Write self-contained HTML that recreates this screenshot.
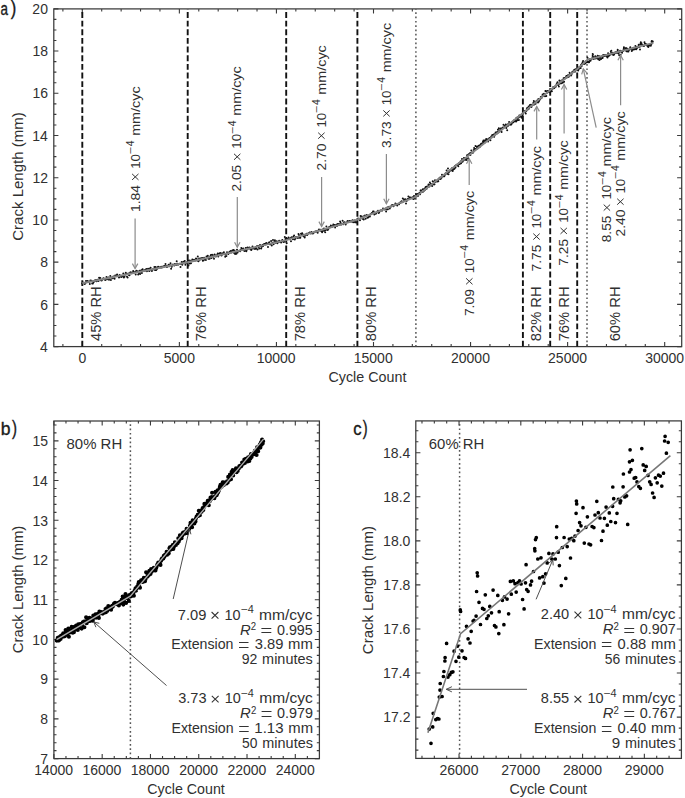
<!DOCTYPE html>
<html><head><meta charset="utf-8"><style>
html,body{margin:0;padding:0;background:#fff;}
svg{display:block;}
text{font-family:"Liberation Sans", sans-serif;font-size:14px;fill:#303030;}
</style></head><body>
<svg width="685" height="798" viewBox="0 0 685 798">
<rect width="685" height="798" fill="#fff"/>
<rect x="53.8" y="8.9" width="627.90" height="337.70" fill="none" stroke="#3a3a3a" stroke-width="1.25"/>
<path d="M82.30 346.6v-4.6M82.30 8.9v4.6M179.37 346.6v-4.6M179.37 8.9v4.6M276.43 346.6v-4.6M276.43 8.9v4.6M373.50 346.6v-4.6M373.50 8.9v4.6M470.56 346.6v-4.6M470.56 8.9v4.6M567.62 346.6v-4.6M567.62 8.9v4.6M664.69 346.6v-4.6M664.69 8.9v4.6M62.89 346.6v-2.6M62.89 8.9v2.6M101.71 346.6v-2.6M101.71 8.9v2.6M121.13 346.6v-2.6M121.13 8.9v2.6M140.54 346.6v-2.6M140.54 8.9v2.6M159.95 346.6v-2.6M159.95 8.9v2.6M198.78 346.6v-2.6M198.78 8.9v2.6M218.19 346.6v-2.6M218.19 8.9v2.6M237.60 346.6v-2.6M237.60 8.9v2.6M257.02 346.6v-2.6M257.02 8.9v2.6M295.84 346.6v-2.6M295.84 8.9v2.6M315.26 346.6v-2.6M315.26 8.9v2.6M334.67 346.6v-2.6M334.67 8.9v2.6M354.08 346.6v-2.6M354.08 8.9v2.6M392.91 346.6v-2.6M392.91 8.9v2.6M412.32 346.6v-2.6M412.32 8.9v2.6M431.73 346.6v-2.6M431.73 8.9v2.6M451.15 346.6v-2.6M451.15 8.9v2.6M489.97 346.6v-2.6M489.97 8.9v2.6M509.39 346.6v-2.6M509.39 8.9v2.6M528.80 346.6v-2.6M528.80 8.9v2.6M548.21 346.6v-2.6M548.21 8.9v2.6M587.04 346.6v-2.6M587.04 8.9v2.6M606.45 346.6v-2.6M606.45 8.9v2.6M625.86 346.6v-2.6M625.86 8.9v2.6M645.28 346.6v-2.6M645.28 8.9v2.6M53.8 346.60h4.6M681.7 346.60h-4.6M53.8 304.38h4.6M681.7 304.38h-4.6M53.8 262.16h4.6M681.7 262.16h-4.6M53.8 219.94h4.6M681.7 219.94h-4.6M53.8 177.72h4.6M681.7 177.72h-4.6M53.8 135.50h4.6M681.7 135.50h-4.6M53.8 93.28h4.6M681.7 93.28h-4.6M53.8 51.06h4.6M681.7 51.06h-4.6M53.8 8.84h4.6M681.7 8.84h-4.6M53.8 336.05h2.6M681.7 336.05h-2.6M53.8 325.49h2.6M681.7 325.49h-2.6M53.8 314.94h2.6M681.7 314.94h-2.6M53.8 293.83h2.6M681.7 293.83h-2.6M53.8 283.27h2.6M681.7 283.27h-2.6M53.8 272.72h2.6M681.7 272.72h-2.6M53.8 251.61h2.6M681.7 251.61h-2.6M53.8 241.05h2.6M681.7 241.05h-2.6M53.8 230.50h2.6M681.7 230.50h-2.6M53.8 209.39h2.6M681.7 209.39h-2.6M53.8 198.83h2.6M681.7 198.83h-2.6M53.8 188.28h2.6M681.7 188.28h-2.6M53.8 167.17h2.6M681.7 167.17h-2.6M53.8 156.61h2.6M681.7 156.61h-2.6M53.8 146.06h2.6M681.7 146.06h-2.6M53.8 124.95h2.6M681.7 124.95h-2.6M53.8 114.39h2.6M681.7 114.39h-2.6M53.8 103.84h2.6M681.7 103.84h-2.6M53.8 82.73h2.6M681.7 82.73h-2.6M53.8 72.17h2.6M681.7 72.17h-2.6M53.8 61.62h2.6M681.7 61.62h-2.6M53.8 40.51h2.6M681.7 40.51h-2.6M53.8 29.95h2.6M681.7 29.95h-2.6M53.8 19.40h2.6M681.7 19.40h-2.6" stroke="#3a3a3a" stroke-width="1.1" fill="none"/>
<text x="78.41" y="363.00" textLength="7.79" lengthAdjust="spacingAndGlyphs">0</text>
<text x="163.79" y="363.00" textLength="31.14" lengthAdjust="spacingAndGlyphs">5000</text>
<text x="256.70" y="363.00" textLength="38.93" lengthAdjust="spacingAndGlyphs">10000</text>
<text x="353.77" y="363.00" textLength="38.93" lengthAdjust="spacingAndGlyphs">15000</text>
<text x="451.02" y="363.00" textLength="38.93" lengthAdjust="spacingAndGlyphs">20000</text>
<text x="548.08" y="363.00" textLength="38.93" lengthAdjust="spacingAndGlyphs">25000</text>
<text x="645.23" y="363.00" textLength="38.93" lengthAdjust="spacingAndGlyphs">30000</text>
<text x="40.02" y="351.80" textLength="7.79" lengthAdjust="spacingAndGlyphs">4</text>
<text x="40.23" y="309.58" textLength="7.79" lengthAdjust="spacingAndGlyphs">6</text>
<text x="40.22" y="267.36" textLength="7.79" lengthAdjust="spacingAndGlyphs">8</text>
<text x="32.37" y="225.14" textLength="15.57" lengthAdjust="spacingAndGlyphs">10</text>
<text x="32.53" y="182.92" textLength="15.57" lengthAdjust="spacingAndGlyphs">12</text>
<text x="32.24" y="140.70" textLength="15.57" lengthAdjust="spacingAndGlyphs">14</text>
<text x="32.44" y="98.48" textLength="15.57" lengthAdjust="spacingAndGlyphs">16</text>
<text x="32.44" y="56.26" textLength="15.57" lengthAdjust="spacingAndGlyphs">18</text>
<text x="32.37" y="14.04" textLength="15.57" lengthAdjust="spacingAndGlyphs">20</text>
<text x="328.47" y="382.00" textLength="77.93" lengthAdjust="spacingAndGlyphs">Cycle Count</text>
<g transform="translate(22.90,240.00) rotate(-90)"><text x="-0.76" y="0.00" textLength="128.49" lengthAdjust="spacingAndGlyphs">Crack Length (mm)</text></g>
<text x="0.53" y="15.20" textLength="7.47" lengthAdjust="spacingAndGlyphs" style="font-size:17.5px;stroke:#1a1a1a;stroke-width:0.35px;fill:#1a1a1a;">a</text><text x="10.80" y="15.10" textLength="5.53" lengthAdjust="spacingAndGlyphs" style="font-size:19.3px;stroke:#1a1a1a;stroke-width:0.35px;fill:#1a1a1a;">)</text>
<line x1="82.30" y1="346.6" x2="82.30" y2="8.9" stroke="#111" stroke-width="1.9" stroke-dasharray="5.9 2.75"/>
<line x1="187.70" y1="346.6" x2="187.70" y2="8.9" stroke="#111" stroke-width="1.9" stroke-dasharray="5.9 2.75"/>
<line x1="286.20" y1="346.6" x2="286.20" y2="8.9" stroke="#111" stroke-width="1.9" stroke-dasharray="5.9 2.75"/>
<line x1="357.40" y1="346.6" x2="357.40" y2="8.9" stroke="#111" stroke-width="1.9" stroke-dasharray="5.9 2.75"/>
<line x1="522.90" y1="346.6" x2="522.90" y2="8.9" stroke="#111" stroke-width="1.9" stroke-dasharray="5.9 2.75"/>
<line x1="550.20" y1="346.6" x2="550.20" y2="8.9" stroke="#111" stroke-width="1.9" stroke-dasharray="5.9 2.75"/>
<line x1="577.20" y1="346.6" x2="577.20" y2="8.9" stroke="#111" stroke-width="1.9" stroke-dasharray="5.9 2.75"/>
<line x1="415.90" y1="346.6" x2="415.90" y2="8.9" stroke="#555" stroke-width="1.5" stroke-dasharray="1.7 2.62"/>
<line x1="587.00" y1="346.6" x2="587.00" y2="8.9" stroke="#555" stroke-width="1.5" stroke-dasharray="1.7 2.62"/>
<g transform="translate(101.00,340.60) rotate(-90)"><text x="-0.34" y="0.00" textLength="54.53" lengthAdjust="spacingAndGlyphs">45% RH</text></g>
<g transform="translate(206.20,340.60) rotate(-90)"><text x="-0.76" y="0.00" textLength="54.96" lengthAdjust="spacingAndGlyphs">76% RH</text></g>
<g transform="translate(305.00,340.60) rotate(-90)"><text x="-0.76" y="0.00" textLength="54.96" lengthAdjust="spacingAndGlyphs">78% RH</text></g>
<g transform="translate(375.80,340.60) rotate(-90)"><text x="-0.64" y="0.00" textLength="54.84" lengthAdjust="spacingAndGlyphs">80% RH</text></g>
<g transform="translate(541.40,340.60) rotate(-90)"><text x="-0.64" y="0.00" textLength="54.84" lengthAdjust="spacingAndGlyphs">82% RH</text></g>
<g transform="translate(569.00,340.60) rotate(-90)"><text x="-0.76" y="0.00" textLength="54.96" lengthAdjust="spacingAndGlyphs">76% RH</text></g>
<g transform="translate(620.40,340.60) rotate(-90)"><text x="-0.75" y="0.00" textLength="54.95" lengthAdjust="spacingAndGlyphs">60% RH</text></g>
<path d="M82.3 283.6h0M82.9 282.5h0M83.5 283.3h0M84.2 283.3h0M84.8 284.0h0M85.4 282.9h0M86.0 281.1h0M86.6 281.9h0M87.3 281.0h0M87.9 281.8h0M88.5 281.5h0M89.1 281.7h0M89.8 283.9h0M90.4 280.6h0M91.0 280.9h0M91.6 280.8h0M92.2 283.4h0M92.9 283.4h0M93.5 282.2h0M94.1 281.5h0M94.7 280.4h0M95.3 280.7h0M96.0 279.9h0M96.6 281.2h0M97.2 279.9h0M97.8 279.7h0M98.5 280.9h0M99.1 277.7h0M99.7 279.1h0M100.3 278.1h0M100.9 280.3h0M101.6 280.4h0M102.2 279.7h0M102.8 279.3h0M103.4 278.2h0M104.0 278.6h0M104.7 279.4h0M105.3 279.9h0M105.9 279.2h0M106.5 276.9h0M107.1 279.3h0M107.8 277.9h0M108.4 277.5h0M109.0 279.8h0M109.6 277.7h0M110.3 276.0h0M110.9 280.1h0M111.5 277.8h0M112.1 277.4h0M112.7 278.2h0M113.4 276.4h0M114.0 277.0h0M114.6 278.7h0M115.2 275.6h0M115.8 275.7h0M116.5 275.2h0M117.1 274.5h0M117.7 275.7h0M118.3 275.9h0M119.0 277.6h0M119.6 275.0h0M120.2 276.5h0M120.8 276.1h0M121.4 277.0h0M122.1 276.5h0M122.7 275.9h0M123.3 273.4h0M123.9 277.5h0M124.5 276.7h0M125.2 274.4h0M125.8 272.7h0M126.4 273.7h0M127.0 276.7h0M127.6 277.4h0M128.3 273.6h0M128.9 274.9h0M129.5 275.2h0M130.1 272.5h0M130.8 272.2h0M131.4 273.2h0M132.0 273.0h0M132.6 272.6h0M133.2 271.0h0M133.9 272.2h0M134.5 272.2h0M135.1 272.0h0M135.7 274.6h0M136.3 270.8h0M137.0 271.1h0M137.6 271.5h0M138.2 274.6h0M138.8 272.8h0M139.5 270.8h0M140.1 274.0h0M140.7 271.8h0M141.3 270.2h0M141.9 273.0h0M142.6 269.2h0M143.2 270.4h0M143.8 271.1h0M144.4 270.4h0M145.0 269.9h0M145.7 270.4h0M146.3 269.0h0M146.9 271.2h0M147.5 270.7h0M148.1 268.8h0M148.8 269.9h0M149.4 270.9h0M150.0 268.5h0M150.6 267.7h0M151.3 270.0h0M151.9 271.1h0M152.5 269.4h0M153.1 269.3h0M153.7 269.3h0M154.4 267.1h0M155.0 270.0h0M155.6 267.0h0M156.2 270.1h0M156.8 269.3h0M157.5 267.4h0M158.1 266.7h0M158.7 266.9h0M159.3 267.4h0M160.0 267.5h0M160.6 267.4h0M161.2 266.7h0M161.8 267.6h0M162.4 266.9h0M163.1 266.4h0M163.7 267.0h0M164.3 265.9h0M164.9 266.0h0M165.5 264.1h0M166.2 266.1h0M166.8 266.9h0M167.4 266.7h0M168.0 266.1h0M168.6 264.8h0M169.3 266.3h0M169.9 265.2h0M170.5 263.3h0M171.1 268.7h0M171.8 266.8h0M172.4 264.9h0M173.0 264.6h0M173.6 264.7h0M174.2 265.4h0M174.9 263.9h0M175.5 264.3h0M176.1 265.1h0M176.7 261.3h0M177.3 263.8h0M178.0 264.8h0M178.6 264.1h0M179.2 264.1h0M179.8 263.8h0M180.5 267.1h0M181.1 264.1h0M181.7 262.1h0M182.3 264.7h0M182.9 263.2h0M183.6 261.8h0M184.2 261.8h0M184.8 260.9h0M185.4 264.8h0M186.0 262.9h0M186.7 262.8h0M187.3 261.5h0M187.9 260.7h0M188.5 265.4h0M189.1 260.5h0M189.8 263.5h0M190.4 260.7h0M191.0 263.3h0M191.6 261.1h0M192.3 259.6h0M192.9 261.2h0M193.5 260.6h0M194.1 259.7h0M194.7 260.4h0M195.4 260.6h0M196.0 258.4h0M196.6 258.8h0M197.2 260.4h0M197.8 256.4h0M198.5 261.2h0M199.1 258.5h0M199.7 259.8h0M200.3 259.2h0M201.0 258.3h0M201.6 258.8h0M202.2 258.1h0M202.8 260.7h0M203.4 260.6h0M204.1 257.7h0M204.7 259.6h0M205.3 259.5h0M205.9 260.0h0M206.5 256.4h0M207.2 256.9h0M207.8 255.8h0M208.4 258.7h0M209.0 257.4h0M209.6 258.7h0M210.3 256.2h0M210.9 255.0h0M211.5 258.0h0M212.1 254.7h0M212.8 255.3h0M213.4 256.7h0M214.0 258.8h0M214.6 254.4h0M215.2 256.1h0M215.9 256.6h0M216.5 255.2h0M217.1 255.1h0M217.7 253.6h0M218.3 256.6h0M219.0 253.7h0M219.6 253.2h0M220.2 253.1h0M220.8 255.0h0M221.5 255.6h0M222.1 253.2h0M222.7 254.2h0M223.3 254.1h0M223.9 252.3h0M224.6 254.3h0M225.2 256.7h0M225.8 254.2h0M226.4 255.9h0M227.0 252.3h0M227.7 252.8h0M228.3 253.9h0M228.9 253.0h0M229.5 251.8h0M230.1 252.6h0M230.8 250.9h0M231.4 252.5h0M232.0 251.0h0M232.6 250.3h0M233.3 250.0h0M233.9 252.7h0M234.5 250.6h0M235.1 254.0h0M235.7 252.8h0M236.4 253.8h0M237.0 249.8h0M237.6 252.6h0M238.2 250.9h0M238.8 251.0h0M239.5 250.7h0M240.1 251.2h0M240.7 250.0h0M241.3 247.9h0M242.0 250.0h0M242.6 249.3h0M243.2 248.5h0M243.8 249.9h0M244.4 251.1h0M245.1 250.1h0M245.7 247.9h0M246.3 251.2h0M246.9 249.7h0M247.5 247.5h0M248.2 247.7h0M248.8 248.5h0M249.4 247.4h0M250.0 248.0h0M250.6 249.6h0M251.3 250.0h0M251.9 248.7h0M252.5 246.5h0M253.1 248.3h0M253.8 248.6h0M254.4 248.3h0M255.0 249.1h0M255.6 247.2h0M256.2 248.4h0M256.9 246.3h0M257.5 249.6h0M258.1 246.0h0M258.7 247.1h0M259.3 248.6h0M260.0 245.1h0M260.6 246.3h0M261.2 248.6h0M261.8 246.7h0M262.5 245.1h0M263.1 245.9h0M263.7 244.2h0M264.3 244.1h0M264.9 244.1h0M265.6 244.4h0M266.2 243.0h0M266.8 243.7h0M267.4 243.8h0M268.0 246.9h0M268.7 243.0h0M269.3 242.3h0M269.9 244.2h0M270.5 244.3h0M271.1 241.1h0M271.8 245.6h0M272.4 242.7h0M273.0 240.1h0M273.6 244.2h0M274.3 242.0h0M274.9 240.3h0M275.5 242.7h0M276.1 241.7h0M276.7 241.2h0M277.4 243.3h0M278.0 242.1h0M278.6 241.5h0M279.2 240.7h0M279.8 241.7h0M280.5 241.7h0M281.1 242.6h0M281.7 241.6h0M282.3 239.9h0M283.0 240.8h0M283.6 241.9h0M284.2 241.7h0M284.8 237.1h0M285.4 238.9h0M286.1 239.4h0M286.7 243.3h0M287.3 239.1h0M287.9 239.1h0M288.5 237.4h0M289.2 238.8h0M289.8 239.2h0M290.4 238.3h0M291.0 241.3h0M291.6 237.3h0M292.3 238.0h0M292.9 239.2h0M293.5 236.4h0M294.1 235.6h0M294.8 239.5h0M295.4 238.4h0M296.0 237.0h0M296.6 237.0h0M297.2 237.5h0M297.9 238.1h0M298.5 234.0h0M299.1 235.2h0M299.7 237.8h0M300.3 237.8h0M301.0 233.8h0M301.6 234.5h0M302.2 233.3h0M302.8 234.4h0M303.5 236.3h0M304.1 234.7h0M304.7 237.6h0M305.3 235.6h0M305.9 234.6h0M306.6 233.7h0M307.2 235.1h0M307.8 234.1h0M308.4 233.2h0M309.0 233.1h0M309.7 232.6h0M310.3 233.0h0M310.9 233.5h0M311.5 231.9h0M312.1 232.7h0M312.8 233.6h0M313.4 233.2h0M314.0 232.2h0M314.6 232.1h0M315.3 231.6h0M315.9 231.6h0M316.5 231.2h0M317.1 231.5h0M317.7 232.7h0M318.4 230.4h0M319.0 229.4h0M319.6 230.0h0M320.2 230.6h0M320.8 229.7h0M321.5 231.3h0M322.1 232.3h0M322.7 229.6h0M323.3 230.7h0M324.0 228.4h0M324.6 230.5h0M325.2 232.3h0M325.8 230.1h0M326.4 226.6h0M327.1 228.9h0M327.7 230.0h0M328.3 229.0h0M328.9 227.2h0M329.5 227.1h0M330.2 227.3h0M330.8 225.5h0M331.4 226.3h0M332.0 227.0h0M332.7 226.1h0M333.3 224.5h0M333.9 225.2h0M334.5 225.0h0M335.1 227.5h0M335.8 226.1h0M336.4 224.8h0M337.0 225.9h0M337.6 224.0h0M338.2 224.5h0M338.9 223.9h0M339.5 225.1h0M340.1 221.4h0M340.7 222.9h0M341.3 224.6h0M342.0 224.0h0M342.6 220.7h0M343.2 224.2h0M343.8 222.5h0M344.5 222.2h0M345.1 223.2h0M345.7 224.5h0M346.3 222.6h0M346.9 222.3h0M347.6 221.1h0M348.2 221.4h0M348.8 222.1h0M349.4 220.9h0M350.0 221.1h0M350.7 221.4h0M351.3 221.4h0M351.9 221.6h0M352.5 220.2h0M353.2 222.3h0M353.8 221.5h0M354.4 220.6h0M355.0 222.2h0M355.6 220.7h0M356.3 222.6h0M356.9 220.6h0M357.5 218.8h0M358.1 218.6h0M358.7 219.1h0M359.4 219.1h0M360.0 220.3h0M360.6 216.0h0M361.2 217.4h0M361.8 216.4h0M362.5 218.7h0M363.1 217.5h0M363.7 219.4h0M364.3 215.8h0M365.0 215.4h0M365.6 218.7h0M366.2 216.1h0M366.8 215.0h0M367.4 217.8h0M368.1 217.6h0M368.7 216.4h0M369.3 215.6h0M369.9 216.4h0M370.5 214.3h0M371.2 213.8h0M371.8 213.0h0M372.4 212.7h0M373.0 211.4h0M373.7 211.6h0M374.3 214.5h0M374.9 213.3h0M375.5 213.7h0M376.1 213.5h0M376.8 212.0h0M377.4 211.6h0M378.0 210.8h0M378.6 213.1h0M379.2 212.5h0M379.9 210.7h0M380.5 210.6h0M381.1 210.5h0M381.7 210.0h0M382.3 210.6h0M383.0 208.5h0M383.6 208.7h0M384.2 209.0h0M384.8 209.5h0M385.5 208.6h0M386.1 211.6h0M386.7 209.2h0M387.3 207.6h0M387.9 209.3h0M388.6 206.9h0M389.2 206.7h0M389.8 208.4h0M390.4 206.7h0M391.0 206.6h0M391.7 205.3h0M392.3 204.9h0M392.9 205.5h0M393.5 206.3h0M394.2 205.1h0M394.8 204.8h0M395.4 203.5h0M396.0 203.8h0M396.6 204.8h0M397.3 205.4h0M397.9 203.9h0M398.5 204.1h0M399.1 204.3h0M399.7 202.8h0M400.4 203.1h0M401.0 202.1h0M401.6 201.3h0M402.2 202.2h0M402.8 198.5h0M403.5 201.6h0M404.1 199.6h0M404.7 200.6h0M405.3 199.2h0M406.0 203.4h0M406.6 201.1h0M407.2 199.6h0M407.8 198.9h0M408.4 196.5h0M409.1 198.8h0M409.7 197.4h0M410.3 197.8h0M410.9 197.4h0M411.5 197.7h0M412.2 198.3h0M412.8 197.3h0M413.4 199.1h0M414.0 196.0h0M414.7 198.5h0M415.3 196.7h0M415.9 193.9h0M416.4 196.5h0M416.8 195.8h0M417.3 194.0h0M417.8 195.1h0M418.2 195.8h0M418.7 194.0h0M419.2 193.2h0M419.6 192.7h0M420.1 194.2h0M420.6 190.6h0M421.0 190.3h0M421.5 192.1h0M421.9 191.4h0M422.4 191.9h0M422.9 189.2h0M423.3 191.5h0M423.8 189.3h0M424.3 190.4h0M424.7 190.3h0M425.2 188.1h0M425.7 187.0h0M426.1 188.3h0M426.6 188.8h0M427.1 186.5h0M427.5 187.2h0M428.0 186.4h0M428.5 184.5h0M428.9 184.7h0M429.4 186.4h0M429.9 182.6h0M430.3 185.1h0M430.8 183.8h0M431.3 185.3h0M431.7 184.2h0M432.2 186.0h0M432.7 181.2h0M433.1 181.4h0M433.6 184.3h0M434.1 184.4h0M434.5 184.2h0M435.0 180.3h0M435.5 182.0h0M435.9 181.2h0M436.4 181.2h0M436.9 180.6h0M437.3 181.5h0M437.8 179.7h0M438.3 181.3h0M438.7 179.2h0M439.2 178.4h0M439.7 177.8h0M440.1 178.4h0M440.6 178.9h0M441.1 177.2h0M441.5 177.7h0M442.0 174.8h0M442.4 175.4h0M442.9 176.2h0M443.4 176.3h0M443.8 176.2h0M444.3 176.2h0M444.8 175.1h0M445.2 173.9h0M445.7 173.3h0M446.2 172.9h0M446.6 170.6h0M447.1 173.8h0M447.6 172.5h0M448.0 168.6h0M448.5 174.2h0M449.0 172.1h0M449.4 170.9h0M449.9 170.6h0M450.4 169.9h0M450.8 170.4h0M451.3 169.2h0M451.8 169.3h0M452.2 168.0h0M452.7 171.0h0M453.2 169.4h0M453.6 167.9h0M454.1 168.9h0M454.6 168.6h0M455.0 166.1h0M455.5 167.4h0M456.0 165.4h0M456.4 164.9h0M456.9 165.1h0M457.4 164.5h0M457.8 164.9h0M458.3 166.2h0M458.8 164.1h0M459.2 163.1h0M459.7 164.0h0M460.2 163.1h0M460.6 161.6h0M461.1 163.3h0M461.6 161.0h0M462.0 159.1h0M462.5 161.8h0M463.0 160.5h0M463.4 160.5h0M463.9 158.0h0M464.3 159.2h0M464.8 158.1h0M465.3 159.7h0M465.7 158.5h0M466.2 158.1h0M466.7 159.9h0M467.1 155.3h0M467.6 155.4h0M468.1 158.2h0M468.5 154.5h0M469.0 155.0h0M469.5 153.7h0M469.9 153.3h0M470.4 155.1h0M470.9 153.0h0M471.3 150.4h0M471.8 152.7h0M472.3 152.9h0M472.7 152.9h0M473.2 152.3h0M473.7 150.0h0M474.1 147.9h0M474.6 149.1h0M475.1 148.9h0M475.5 146.0h0M476.0 149.1h0M476.5 149.0h0M476.9 147.1h0M477.4 146.6h0M477.9 148.2h0M478.3 148.0h0M478.8 145.8h0M479.3 145.5h0M479.7 147.1h0M480.2 145.3h0M480.7 145.3h0M481.1 143.7h0M481.6 144.0h0M482.1 143.6h0M482.5 143.5h0M483.0 141.4h0M483.5 140.6h0M483.9 142.4h0M484.4 140.6h0M484.8 142.5h0M485.3 141.3h0M485.8 140.2h0M486.2 139.0h0M486.7 141.1h0M487.2 140.3h0M487.6 139.6h0M488.1 141.4h0M488.6 139.1h0M489.0 139.6h0M489.5 138.0h0M490.0 139.5h0M490.4 140.2h0M490.9 137.3h0M491.4 136.6h0M491.8 137.3h0M492.3 135.1h0M492.8 136.2h0M493.2 136.3h0M493.7 134.6h0M494.2 136.8h0M494.6 135.3h0M495.1 134.1h0M495.6 132.6h0M496.0 133.5h0M496.5 132.6h0M497.0 133.4h0M497.4 131.9h0M497.9 129.8h0M498.4 132.4h0M498.8 128.2h0M499.3 131.6h0M499.8 130.4h0M500.2 129.9h0M500.7 128.6h0M501.2 131.1h0M501.6 131.9h0M502.1 128.2h0M502.6 127.7h0M503.0 127.6h0M503.5 124.7h0M504.0 127.5h0M504.4 127.2h0M504.9 126.0h0M505.3 126.4h0M505.8 124.5h0M506.3 127.9h0M506.7 126.6h0M507.2 130.2h0M507.7 124.5h0M508.1 125.8h0M508.6 123.9h0M509.1 122.1h0M509.5 124.5h0M510.0 124.6h0M510.5 124.6h0M510.9 124.8h0M511.4 124.3h0M511.9 122.3h0M512.3 122.7h0M512.8 122.3h0M513.3 122.3h0M513.7 120.6h0M514.2 120.8h0M514.7 121.2h0M515.1 119.9h0M515.6 120.5h0M516.1 121.5h0M516.5 117.8h0M517.0 118.7h0M517.5 120.2h0M517.9 117.3h0M518.4 117.8h0M518.9 119.9h0M519.3 115.5h0M519.8 116.8h0M520.3 115.8h0M520.7 116.3h0M521.2 116.4h0M521.7 117.8h0M522.1 114.3h0M522.6 115.1h0M523.1 113.5h0M523.5 112.3h0M524.0 112.2h0M524.5 111.1h0M524.9 112.0h0M525.4 111.2h0M525.8 113.4h0M526.3 110.9h0M526.8 109.1h0M527.2 107.9h0M527.7 109.6h0M528.2 108.9h0M528.6 106.4h0M529.1 108.4h0M529.6 106.6h0M530.0 105.0h0M530.5 106.7h0M531.0 104.8h0M531.4 106.9h0M531.9 105.3h0M532.4 105.3h0M532.8 104.7h0M533.3 103.0h0M533.8 101.0h0M534.2 104.5h0M534.7 104.0h0M535.2 102.2h0M535.6 103.8h0M536.1 101.4h0M536.6 100.9h0M537.0 101.6h0M537.5 100.2h0M538.0 102.4h0M538.4 99.1h0M538.9 101.6h0M539.4 100.2h0M539.8 99.6h0M540.3 99.0h0M540.8 97.0h0M541.2 97.6h0M541.7 97.8h0M542.2 96.2h0M542.6 94.5h0M543.1 96.1h0M543.6 95.2h0M544.0 93.7h0M544.5 94.6h0M545.0 96.2h0M545.4 91.0h0M545.9 90.9h0M546.3 95.9h0M546.8 93.0h0M547.3 92.0h0M547.7 90.9h0M548.2 90.9h0M548.7 91.7h0M549.1 92.3h0M549.6 90.4h0M550.1 88.9h0M550.5 91.2h0M551.0 90.8h0M551.5 89.1h0M551.9 91.2h0M552.4 88.7h0M552.9 88.6h0M553.3 87.1h0M553.8 88.2h0M554.3 88.0h0M554.7 87.1h0M555.2 86.3h0M555.7 86.7h0M556.1 85.5h0M556.6 84.2h0M557.1 83.3h0M557.5 82.2h0M558.0 85.0h0M558.5 84.2h0M558.9 86.5h0M559.4 80.6h0M559.9 83.5h0M560.3 82.3h0M560.8 81.2h0M561.3 83.2h0M561.7 80.6h0M562.2 80.8h0M562.7 82.7h0M563.1 79.7h0M563.6 78.2h0M564.1 81.7h0M564.5 78.0h0M565.0 78.4h0M565.5 77.7h0M565.9 77.3h0M566.4 75.9h0M566.8 77.5h0M567.3 75.7h0M567.8 77.0h0M568.2 75.2h0M568.7 76.8h0M569.2 75.5h0M569.6 72.8h0M570.1 74.1h0M570.6 74.5h0M571.0 75.4h0M571.5 74.6h0M572.0 73.0h0M572.4 71.7h0M572.9 72.0h0M573.4 71.5h0M573.8 71.8h0M574.3 69.7h0M574.8 71.5h0M575.2 71.4h0M575.7 69.2h0M576.2 69.9h0M576.6 70.0h0M577.7 69.1h0M578.2 70.5h0M578.8 68.9h0M578.9 67.6h0M579.7 68.2h0M580.3 68.1h0M580.7 68.1h0M580.8 66.0h0M581.1 65.4h0M581.1 64.7h0M581.7 66.0h0M582.1 64.1h0M582.3 63.6h0M582.6 62.6h0M582.7 62.2h0M583.1 60.9h0M583.6 64.1h0M584.1 63.9h0M584.6 63.7h0M585.1 63.6h0M585.5 61.6h0M586.1 62.6h0M586.6 61.1h0M587.0 62.2h0M587.4 57.7h0M587.5 57.8h0M588.0 61.6h0M588.6 62.2h0M589.1 62.3h0M589.4 59.2h0M589.9 60.4h0M590.5 60.8h0M590.9 59.7h0M591.5 58.7h0M591.7 58.7h0M592.4 58.3h0M592.6 55.9h0M592.7 54.1h0M592.9 54.4h0M593.3 56.9h0M593.8 59.1h0M594.4 57.5h0M594.9 57.6h0M595.3 56.2h0M595.8 58.5h0M596.2 58.2h0M596.7 57.3h0M597.2 58.0h0M597.7 55.8h0M598.2 59.2h0M598.6 59.3h0M599.2 56.3h0M599.5 59.9h0M599.7 57.8h0M600.7 56.8h0M601.1 59.1h0M601.3 56.4h0M602.1 56.6h0M602.6 58.0h0M603.2 54.9h0M603.5 56.2h0M604.1 54.9h0M604.6 55.2h0M605.0 56.0h0M605.6 55.1h0M606.0 54.9h0M606.5 55.2h0M607.0 56.7h0M607.5 57.6h0M607.9 55.1h0M608.1 53.3h0M608.3 55.7h0M608.7 55.9h0M609.5 55.3h0M609.8 54.9h0M610.4 54.0h0M610.8 51.8h0M610.9 52.0h0M611.1 50.9h0M611.3 50.7h0M611.8 52.8h0M612.4 54.6h0M612.8 52.7h0M613.4 54.5h0M613.7 55.1h0M614.2 54.2h0M614.7 53.2h0M615.3 52.3h0M616.2 52.8h0M616.6 52.3h0M617.3 52.8h0M617.7 50.7h0M617.7 49.7h0M618.2 52.1h0M618.6 53.4h0M619.2 55.3h0M619.5 51.7h0M620.1 50.7h0M620.6 54.7h0M621.0 51.6h0M621.7 50.9h0M622.1 52.7h0M622.4 50.8h0M623.1 51.0h0M623.5 50.6h0M623.8 48.4h0M623.9 47.2h0M624.0 47.5h0M624.5 50.1h0M624.9 49.3h0M625.4 49.6h0M626.0 47.9h0M626.4 51.3h0M626.9 49.8h0M627.4 48.8h0M627.9 51.4h0M628.4 51.4h0M628.9 49.7h0M629.4 49.8h0M629.8 48.6h0M630.3 47.3h0M630.8 48.4h0M631.3 48.9h0M631.8 51.0h0M632.3 50.1h0M632.7 48.9h0M633.3 47.8h0M633.6 49.6h0M634.3 48.4h0M634.7 49.2h0M635.3 47.7h0M635.4 45.9h0M635.6 47.0h0M636.2 49.3h0M636.7 48.4h0M637.1 47.1h0M637.7 47.4h0M637.8 47.2h0M638.6 45.9h0M638.7 44.7h0M639.1 46.8h0M639.7 46.7h0M640.0 49.5h0M640.6 44.5h0M640.6 43.5h0M640.8 42.3h0M641.1 44.2h0M641.5 43.3h0M642.1 45.1h0M642.6 45.0h0M643.0 45.4h0M643.5 45.9h0M644.0 46.0h0M644.5 42.2h0M644.9 43.8h0M645.4 44.3h0M645.9 43.9h0M646.4 44.8h0M647.0 45.4h0M647.4 45.6h0M647.9 46.5h0M648.3 46.9h0M648.8 45.0h0M649.3 45.5h0M649.7 44.8h0M650.3 44.9h0M650.8 45.8h0M651.3 44.6h0M651.6 41.5h0M651.8 41.0h0M652.2 42.7h0M652.8 41.6h0" stroke="#111" stroke-width="2.0" stroke-linecap="round" fill="none"/>
<polyline points="82.3,283.3 187.7,262.2 286.1,240.2 356.3,220.0 415.5,196.9 522.8,113.3 550.2,90.1 577.1,69.2 587.4,59.9 653.4,42.8" fill="none" stroke="#858585" stroke-width="1.9"/>
<path d="" stroke="#111" stroke-width="2.0" stroke-linecap="round" fill="none"/>
<g transform="translate(139.50,211.00) rotate(-90)"><text x="-1.06" y="0.00" textLength="27.07" lengthAdjust="spacingAndGlyphs" style="font-size:12.9px;">1.84</text><path d="M31.1 -7.4L37.1 -1.0M31.1 -1.0L37.1 -7.4" stroke="#333" stroke-width="1.0" fill="none"/><text x="42.19" y="0.00" textLength="14.73" lengthAdjust="spacingAndGlyphs" style="font-size:12.9px;">10</text><text x="57.07" y="-5.30" textLength="7.45" lengthAdjust="spacingAndGlyphs" style="font-size:10.2px;">−</text><text x="64.76" y="-5.30" textLength="5.74" lengthAdjust="spacingAndGlyphs" style="font-size:10.2px;">4</text><text x="75.15" y="0.00" textLength="49.43" lengthAdjust="spacingAndGlyphs" style="font-size:12.9px;">mm/cyc</text></g>
<line x1="135.1" y1="218.5" x2="135.1" y2="268.6" stroke="#8c8c8c" stroke-width="1.2"/>
<path d="M132.4 263.6L135.1 268.6L137.8 263.6" stroke="#8c8c8c" stroke-width="1.2" fill="none"/>
<g transform="translate(241.40,190.90) rotate(-90)"><text x="-0.69" y="0.00" textLength="26.87" lengthAdjust="spacingAndGlyphs" style="font-size:12.9px;">2.05</text><path d="M31.1 -7.4L37.1 -1.0M31.1 -1.0L37.1 -7.4" stroke="#333" stroke-width="1.0" fill="none"/><text x="42.19" y="0.00" textLength="14.73" lengthAdjust="spacingAndGlyphs" style="font-size:12.9px;">10</text><text x="57.07" y="-5.30" textLength="7.45" lengthAdjust="spacingAndGlyphs" style="font-size:10.2px;">−</text><text x="64.76" y="-5.30" textLength="5.74" lengthAdjust="spacingAndGlyphs" style="font-size:10.2px;">4</text><text x="75.15" y="0.00" textLength="49.43" lengthAdjust="spacingAndGlyphs" style="font-size:12.9px;">mm/cyc</text></g>
<line x1="237.3" y1="197.1" x2="237.3" y2="247.3" stroke="#8c8c8c" stroke-width="1.2"/>
<path d="M234.6 242.3L237.3 247.3L240.0 242.3" stroke="#8c8c8c" stroke-width="1.2" fill="none"/>
<g transform="translate(325.60,169.80) rotate(-90)"><text x="-0.69" y="0.00" textLength="26.83" lengthAdjust="spacingAndGlyphs" style="font-size:12.9px;">2.70</text><path d="M31.1 -7.4L37.1 -1.0M31.1 -1.0L37.1 -7.4" stroke="#333" stroke-width="1.0" fill="none"/><text x="42.19" y="0.00" textLength="14.73" lengthAdjust="spacingAndGlyphs" style="font-size:12.9px;">10</text><text x="57.07" y="-5.30" textLength="7.45" lengthAdjust="spacingAndGlyphs" style="font-size:10.2px;">−</text><text x="64.76" y="-5.30" textLength="5.74" lengthAdjust="spacingAndGlyphs" style="font-size:10.2px;">4</text><text x="75.15" y="0.00" textLength="49.43" lengthAdjust="spacingAndGlyphs" style="font-size:12.9px;">mm/cyc</text></g>
<line x1="321.6" y1="177.0" x2="321.6" y2="226.6" stroke="#8c8c8c" stroke-width="1.2"/>
<path d="M318.9 221.6L321.6 226.6L324.3 221.6" stroke="#8c8c8c" stroke-width="1.2" fill="none"/>
<g transform="translate(390.70,147.50) rotate(-90)"><text x="-0.52" y="0.00" textLength="26.73" lengthAdjust="spacingAndGlyphs" style="font-size:12.9px;">3.73</text><path d="M31.1 -7.4L37.1 -1.0M31.1 -1.0L37.1 -7.4" stroke="#333" stroke-width="1.0" fill="none"/><text x="42.19" y="0.00" textLength="14.73" lengthAdjust="spacingAndGlyphs" style="font-size:12.9px;">10</text><text x="57.07" y="-5.30" textLength="7.45" lengthAdjust="spacingAndGlyphs" style="font-size:10.2px;">−</text><text x="64.76" y="-5.30" textLength="5.74" lengthAdjust="spacingAndGlyphs" style="font-size:10.2px;">4</text><text x="75.15" y="0.00" textLength="49.43" lengthAdjust="spacingAndGlyphs" style="font-size:12.9px;">mm/cyc</text></g>
<line x1="386.4" y1="154.0" x2="386.4" y2="203.8" stroke="#8c8c8c" stroke-width="1.2"/>
<path d="M383.7 198.8L386.4 203.8L389.1 198.8" stroke="#8c8c8c" stroke-width="1.2" fill="none"/>
<g transform="translate(473.50,315.40) rotate(-90)"><text x="-0.71" y="0.00" textLength="26.97" lengthAdjust="spacingAndGlyphs" style="font-size:12.9px;">7.09</text><path d="M31.1 -7.4L37.1 -1.0M31.1 -1.0L37.1 -7.4" stroke="#333" stroke-width="1.0" fill="none"/><text x="42.19" y="0.00" textLength="14.73" lengthAdjust="spacingAndGlyphs" style="font-size:12.9px;">10</text><text x="57.07" y="-5.30" textLength="7.45" lengthAdjust="spacingAndGlyphs" style="font-size:10.2px;">−</text><text x="64.76" y="-5.30" textLength="5.74" lengthAdjust="spacingAndGlyphs" style="font-size:10.2px;">4</text><text x="75.15" y="0.00" textLength="49.43" lengthAdjust="spacingAndGlyphs" style="font-size:12.9px;">mm/cyc</text></g>
<line x1="469.2" y1="185.1" x2="469.2" y2="158.8" stroke="#8c8c8c" stroke-width="1.2"/>
<path d="M471.9 163.8L469.2 158.8L466.5 163.8" stroke="#8c8c8c" stroke-width="1.2" fill="none"/>
<g transform="translate(540.70,270.70) rotate(-90)"><text x="-0.71" y="0.00" textLength="26.89" lengthAdjust="spacingAndGlyphs" style="font-size:12.9px;">7.75</text><path d="M31.1 -7.4L37.1 -1.0M31.1 -1.0L37.1 -7.4" stroke="#333" stroke-width="1.0" fill="none"/><text x="42.19" y="0.00" textLength="14.73" lengthAdjust="spacingAndGlyphs" style="font-size:12.9px;">10</text><text x="57.07" y="-5.30" textLength="7.45" lengthAdjust="spacingAndGlyphs" style="font-size:10.2px;">−</text><text x="64.76" y="-5.30" textLength="5.74" lengthAdjust="spacingAndGlyphs" style="font-size:10.2px;">4</text><text x="75.15" y="0.00" textLength="49.43" lengthAdjust="spacingAndGlyphs" style="font-size:12.9px;">mm/cyc</text></g>
<line x1="536.7" y1="139.5" x2="536.7" y2="106.4" stroke="#8c8c8c" stroke-width="1.2"/>
<path d="M539.4 111.4L536.7 106.4L534.0 111.4" stroke="#8c8c8c" stroke-width="1.2" fill="none"/>
<g transform="translate(567.90,265.00) rotate(-90)"><text x="-0.71" y="0.00" textLength="26.89" lengthAdjust="spacingAndGlyphs" style="font-size:12.9px;">7.25</text><path d="M31.1 -7.4L37.1 -1.0M31.1 -1.0L37.1 -7.4" stroke="#333" stroke-width="1.0" fill="none"/><text x="42.19" y="0.00" textLength="14.73" lengthAdjust="spacingAndGlyphs" style="font-size:12.9px;">10</text><text x="57.07" y="-5.30" textLength="7.45" lengthAdjust="spacingAndGlyphs" style="font-size:10.2px;">−</text><text x="64.76" y="-5.30" textLength="5.74" lengthAdjust="spacingAndGlyphs" style="font-size:10.2px;">4</text><text x="75.15" y="0.00" textLength="49.43" lengthAdjust="spacingAndGlyphs" style="font-size:12.9px;">mm/cyc</text></g>
<line x1="564.1" y1="133.6" x2="564.1" y2="84.5" stroke="#8c8c8c" stroke-width="1.2"/>
<path d="M566.8 89.5L564.1 84.5L561.4 89.5" stroke="#8c8c8c" stroke-width="1.2" fill="none"/>
<g transform="translate(611.10,241.70) rotate(-90)"><text x="-0.60" y="0.00" textLength="26.78" lengthAdjust="spacingAndGlyphs" style="font-size:12.9px;">8.55</text><path d="M31.1 -7.4L37.1 -1.0M31.1 -1.0L37.1 -7.4" stroke="#333" stroke-width="1.0" fill="none"/><text x="42.19" y="0.00" textLength="14.73" lengthAdjust="spacingAndGlyphs" style="font-size:12.9px;">10</text><text x="57.07" y="-5.30" textLength="7.45" lengthAdjust="spacingAndGlyphs" style="font-size:10.2px;">−</text><text x="64.76" y="-5.30" textLength="5.74" lengthAdjust="spacingAndGlyphs" style="font-size:10.2px;">4</text><text x="75.15" y="0.00" textLength="49.43" lengthAdjust="spacingAndGlyphs" style="font-size:12.9px;">mm/cyc</text></g>
<line x1="596.2" y1="127.7" x2="583.3" y2="68.9" stroke="#8c8c8c" stroke-width="1.2"/>
<path d="M587.0 73.2L583.3 68.9L581.7 74.4" stroke="#8c8c8c" stroke-width="1.2" fill="none"/>
<g transform="translate(624.60,235.80) rotate(-90)"><text x="-0.69" y="0.00" textLength="26.83" lengthAdjust="spacingAndGlyphs" style="font-size:12.9px;">2.40</text><path d="M31.1 -7.4L37.1 -1.0M31.1 -1.0L37.1 -7.4" stroke="#333" stroke-width="1.0" fill="none"/><text x="42.19" y="0.00" textLength="14.73" lengthAdjust="spacingAndGlyphs" style="font-size:12.9px;">10</text><text x="57.07" y="-5.30" textLength="7.45" lengthAdjust="spacingAndGlyphs" style="font-size:10.2px;">−</text><text x="64.76" y="-5.30" textLength="5.74" lengthAdjust="spacingAndGlyphs" style="font-size:10.2px;">4</text><text x="75.15" y="0.00" textLength="49.43" lengthAdjust="spacingAndGlyphs" style="font-size:12.9px;">mm/cyc</text></g>
<line x1="620.6" y1="105.2" x2="620.6" y2="55.3" stroke="#8c8c8c" stroke-width="1.2"/>
<path d="M623.3 60.3L620.6 55.3L617.9 60.3" stroke="#8c8c8c" stroke-width="1.2" fill="none"/>
<rect x="53.9" y="421.0" width="265.50" height="337.60" fill="none" stroke="#3a3a3a" stroke-width="1.25"/>
<path d="M53.90 758.6v-4.6M53.90 421.0v4.6M102.18 758.6v-4.6M102.18 421.0v4.6M150.46 758.6v-4.6M150.46 421.0v4.6M198.74 758.6v-4.6M198.74 421.0v4.6M247.02 758.6v-4.6M247.02 421.0v4.6M295.30 758.6v-4.6M295.30 421.0v4.6M65.97 758.6v-2.6M65.97 421.0v2.6M78.04 758.6v-2.6M78.04 421.0v2.6M90.11 758.6v-2.6M90.11 421.0v2.6M114.25 758.6v-2.6M114.25 421.0v2.6M126.32 758.6v-2.6M126.32 421.0v2.6M138.39 758.6v-2.6M138.39 421.0v2.6M162.53 758.6v-2.6M162.53 421.0v2.6M174.60 758.6v-2.6M174.60 421.0v2.6M186.67 758.6v-2.6M186.67 421.0v2.6M210.81 758.6v-2.6M210.81 421.0v2.6M222.88 758.6v-2.6M222.88 421.0v2.6M234.95 758.6v-2.6M234.95 421.0v2.6M259.09 758.6v-2.6M259.09 421.0v2.6M271.16 758.6v-2.6M271.16 421.0v2.6M283.23 758.6v-2.6M283.23 421.0v2.6M307.37 758.6v-2.6M307.37 421.0v2.6M53.9 758.60h4.6M319.4 758.60h-4.6M53.9 718.88h4.6M319.4 718.88h-4.6M53.9 679.16h4.6M319.4 679.16h-4.6M53.9 639.44h4.6M319.4 639.44h-4.6M53.9 599.72h4.6M319.4 599.72h-4.6M53.9 560.00h4.6M319.4 560.00h-4.6M53.9 520.28h4.6M319.4 520.28h-4.6M53.9 480.56h4.6M319.4 480.56h-4.6M53.9 440.84h4.6M319.4 440.84h-4.6M53.9 750.66h2.6M319.4 750.66h-2.6M53.9 742.71h2.6M319.4 742.71h-2.6M53.9 734.77h2.6M319.4 734.77h-2.6M53.9 726.82h2.6M319.4 726.82h-2.6M53.9 710.94h2.6M319.4 710.94h-2.6M53.9 702.99h2.6M319.4 702.99h-2.6M53.9 695.05h2.6M319.4 695.05h-2.6M53.9 687.10h2.6M319.4 687.10h-2.6M53.9 671.22h2.6M319.4 671.22h-2.6M53.9 663.27h2.6M319.4 663.27h-2.6M53.9 655.33h2.6M319.4 655.33h-2.6M53.9 647.38h2.6M319.4 647.38h-2.6M53.9 631.50h2.6M319.4 631.50h-2.6M53.9 623.55h2.6M319.4 623.55h-2.6M53.9 615.61h2.6M319.4 615.61h-2.6M53.9 607.66h2.6M319.4 607.66h-2.6M53.9 591.78h2.6M319.4 591.78h-2.6M53.9 583.83h2.6M319.4 583.83h-2.6M53.9 575.89h2.6M319.4 575.89h-2.6M53.9 567.94h2.6M319.4 567.94h-2.6M53.9 552.06h2.6M319.4 552.06h-2.6M53.9 544.11h2.6M319.4 544.11h-2.6M53.9 536.17h2.6M319.4 536.17h-2.6M53.9 528.22h2.6M319.4 528.22h-2.6M53.9 512.34h2.6M319.4 512.34h-2.6M53.9 504.39h2.6M319.4 504.39h-2.6M53.9 496.45h2.6M319.4 496.45h-2.6M53.9 488.50h2.6M319.4 488.50h-2.6M53.9 472.62h2.6M319.4 472.62h-2.6M53.9 464.67h2.6M319.4 464.67h-2.6M53.9 456.73h2.6M319.4 456.73h-2.6M53.9 448.78h2.6M319.4 448.78h-2.6M53.9 432.90h2.6M319.4 432.90h-2.6M53.9 424.95h2.6M319.4 424.95h-2.6" stroke="#3a3a3a" stroke-width="1.1" fill="none"/>
<text x="34.17" y="774.60" textLength="38.93" lengthAdjust="spacingAndGlyphs">14000</text>
<text x="82.45" y="774.60" textLength="38.93" lengthAdjust="spacingAndGlyphs">16000</text>
<text x="130.73" y="774.60" textLength="38.93" lengthAdjust="spacingAndGlyphs">18000</text>
<text x="179.20" y="774.60" textLength="38.93" lengthAdjust="spacingAndGlyphs">20000</text>
<text x="227.48" y="774.60" textLength="38.93" lengthAdjust="spacingAndGlyphs">22000</text>
<text x="275.76" y="774.60" textLength="38.93" lengthAdjust="spacingAndGlyphs">24000</text>
<text x="40.32" y="763.90" textLength="7.79" lengthAdjust="spacingAndGlyphs">7</text>
<text x="40.22" y="724.18" textLength="7.79" lengthAdjust="spacingAndGlyphs">8</text>
<text x="40.28" y="684.46" textLength="7.79" lengthAdjust="spacingAndGlyphs">9</text>
<text x="32.37" y="644.74" textLength="15.57" lengthAdjust="spacingAndGlyphs">10</text>
<text x="32.51" y="605.02" textLength="15.57" lengthAdjust="spacingAndGlyphs">11</text>
<text x="32.53" y="565.30" textLength="15.57" lengthAdjust="spacingAndGlyphs">12</text>
<text x="32.44" y="525.58" textLength="15.57" lengthAdjust="spacingAndGlyphs">13</text>
<text x="32.24" y="485.86" textLength="15.57" lengthAdjust="spacingAndGlyphs">14</text>
<text x="32.42" y="446.14" textLength="15.57" lengthAdjust="spacingAndGlyphs">15</text>
<text x="147.28" y="793.60" textLength="77.53" lengthAdjust="spacingAndGlyphs">Cycle Count</text>
<g transform="translate(22.60,652.40) rotate(-90)"><text x="-0.76" y="0.00" textLength="127.48" lengthAdjust="spacingAndGlyphs">Crack Length (mm)</text></g>
<text x="0.87" y="434.70" textLength="9.77" lengthAdjust="spacingAndGlyphs" style="font-size:18.5px;stroke:#1a1a1a;stroke-width:0.35px;fill:#1a1a1a;">b</text><text x="11.91" y="434.70" textLength="5.02" lengthAdjust="spacingAndGlyphs" style="font-size:19.3px;stroke:#1a1a1a;stroke-width:0.35px;fill:#1a1a1a;">)</text>
<line x1="130.40" y1="758.6" x2="130.40" y2="421.0" stroke="#555" stroke-width="1.5" stroke-dasharray="1.7 2.62"/>
<text x="66.55" y="448.50" textLength="55.67" lengthAdjust="spacingAndGlyphs">80% RH</text>
<path d="M56.7 640.6h0M57.2 639.7h0M57.8 637.7h0M58.3 637.9h0M58.9 640.4h0M59.5 637.1h0M60.0 637.2h0M60.6 639.0h0M61.1 635.5h0M61.7 637.0h0M62.2 636.8h0M62.8 634.4h0M63.3 633.2h0M63.9 636.4h0M64.4 634.1h0M65.0 636.1h0M65.6 630.1h0M66.1 634.7h0M66.7 631.4h0M67.2 634.3h0M67.8 631.4h0M68.3 628.6h0M68.9 636.7h0M69.4 632.6h0M70.0 630.6h0M70.6 631.4h0M71.1 632.1h0M71.7 626.7h0M72.2 630.0h0M72.8 632.8h0M73.3 628.0h0M73.9 632.3h0M74.4 626.8h0M75.0 629.6h0M75.6 627.9h0M76.1 625.6h0M76.7 627.3h0M77.2 629.7h0M77.8 629.9h0M78.3 624.4h0M78.9 624.9h0M79.4 627.3h0M80.0 624.0h0M80.6 624.3h0M81.1 623.7h0M81.7 628.6h0M82.2 624.7h0M82.8 622.2h0M83.3 622.2h0M83.9 621.6h0M84.4 627.2h0M85.0 622.2h0M85.5 621.3h0M86.1 617.3h0M86.7 623.2h0M87.2 621.8h0M87.8 620.8h0M88.3 618.9h0M88.9 621.0h0M89.4 617.8h0M90.0 620.9h0M90.5 618.7h0M91.1 619.8h0M91.7 618.2h0M92.2 619.4h0M92.8 620.7h0M93.3 615.5h0M93.9 616.6h0M94.4 617.8h0M95.0 616.1h0M95.5 614.4h0M96.1 617.6h0M96.7 615.7h0M97.2 614.2h0M97.8 613.9h0M98.3 615.1h0M98.9 617.9h0M99.4 611.6h0M100.0 612.9h0M100.5 613.1h0M101.1 613.3h0M101.6 612.0h0M102.2 612.9h0M102.8 613.6h0M103.3 612.8h0M103.9 612.2h0M104.4 611.9h0M105.0 612.5h0M105.5 609.0h0M106.1 612.1h0M106.6 608.2h0M107.2 610.9h0M107.8 608.1h0M108.3 606.0h0M108.9 607.7h0M109.4 609.0h0M110.0 607.3h0M110.5 606.8h0M111.1 609.8h0M111.6 607.5h0M112.2 605.8h0M112.8 606.6h0M113.3 605.2h0M113.9 603.7h0M114.4 603.4h0M115.0 602.8h0M115.5 603.1h0M116.1 604.3h0M116.6 603.6h0M117.2 603.7h0M117.8 603.5h0M118.3 602.9h0M118.9 605.4h0M119.4 602.6h0M120.0 601.8h0M120.5 603.2h0M121.1 601.2h0M121.6 599.9h0M122.2 600.8h0M122.7 596.5h0M123.3 604.6h0M123.9 600.0h0M124.4 602.6h0M125.0 597.3h0M125.5 594.0h0M126.1 602.9h0M126.6 597.9h0M127.2 596.9h0M127.7 598.1h0M128.3 596.2h0M128.9 600.9h0M129.4 595.1h0M130.0 595.7h0M130.5 595.8h0M131.1 596.2h0M131.6 593.4h0M132.2 594.7h0M132.7 592.7h0M133.3 593.4h0M133.9 595.8h0M134.4 591.1h0M135.0 590.0h0M135.5 588.4h0M136.1 590.6h0M136.6 588.4h0M137.2 586.6h0M137.7 586.7h0M138.3 584.1h0M138.8 582.1h0M139.4 586.6h0M140.0 587.7h0M140.5 582.0h0M141.1 580.2h0M141.6 580.6h0M142.2 580.1h0M142.7 581.9h0M143.3 581.4h0M143.8 577.9h0M144.4 580.4h0M145.0 581.3h0M145.5 579.2h0M146.1 572.3h0M146.6 572.8h0M147.2 576.8h0M147.7 576.3h0M148.3 574.0h0M148.8 575.1h0M149.4 570.8h0M150.0 572.7h0M150.5 573.9h0M151.1 569.0h0M151.6 571.8h0M152.2 569.8h0M152.7 569.6h0M153.3 569.5h0M153.8 567.8h0M154.4 569.0h0M155.0 570.5h0M155.5 570.5h0M156.1 568.2h0M156.6 566.7h0M157.2 564.8h0M157.7 564.0h0M158.3 562.6h0M158.8 562.7h0M159.4 563.8h0M159.9 563.0h0M160.5 564.9h0M161.1 560.8h0M161.6 559.1h0M162.2 558.4h0M162.7 558.9h0M163.3 558.4h0M163.8 555.8h0M164.4 556.8h0M164.9 554.9h0M165.5 554.5h0M166.1 554.5h0M166.6 551.9h0M167.2 554.7h0M167.7 553.6h0M168.3 553.8h0M168.8 553.2h0M169.4 548.3h0M169.9 547.3h0M170.5 549.8h0M171.1 548.2h0M171.6 546.5h0M172.2 546.5h0M172.7 545.1h0M173.3 548.9h0M173.8 547.2h0M174.4 544.6h0M174.9 542.2h0M175.5 543.9h0M176.0 545.0h0M176.6 543.5h0M177.2 543.4h0M177.7 543.1h0M178.3 538.3h0M178.8 541.4h0M179.4 539.6h0M179.9 535.2h0M180.5 536.3h0M181.0 537.2h0M181.6 538.2h0M182.2 535.8h0M182.7 533.0h0M183.3 534.1h0M183.8 532.3h0M184.4 533.8h0M184.9 532.4h0M185.5 533.0h0M186.0 531.2h0M186.6 528.9h0M187.2 533.1h0M187.7 530.0h0M188.3 528.8h0M188.8 529.6h0M189.4 528.4h0M189.9 525.8h0M190.5 522.9h0M191.0 524.7h0M191.6 524.6h0M192.1 527.2h0M192.7 520.3h0M193.3 523.0h0M193.8 522.5h0M194.4 523.5h0M194.9 520.6h0M195.5 521.4h0M196.0 518.3h0M196.6 516.6h0M197.1 516.3h0M197.7 514.9h0M198.3 515.9h0M198.8 510.8h0M199.4 513.8h0M199.9 515.2h0M200.5 511.6h0M201.0 511.9h0M201.6 511.7h0M202.1 509.8h0M202.7 508.0h0M203.3 509.9h0M203.8 507.4h0M204.4 503.9h0M204.9 504.5h0M205.5 505.3h0M206.0 504.1h0M206.6 503.9h0M207.1 503.0h0M207.7 500.9h0M208.3 501.7h0M208.8 505.2h0M209.4 500.2h0M209.9 501.1h0M210.5 497.6h0M211.0 499.2h0M211.6 497.1h0M212.1 492.8h0M212.7 497.9h0M213.2 497.3h0M213.8 497.1h0M214.4 498.2h0M214.9 496.6h0M215.5 491.9h0M216.0 493.3h0M216.6 495.2h0M217.1 494.2h0M217.7 490.2h0M218.2 492.2h0M218.8 490.8h0M219.4 488.9h0M219.9 486.5h0M220.5 484.8h0M221.0 485.7h0M221.6 486.7h0M222.1 485.9h0M222.7 482.4h0M223.2 482.4h0M223.8 484.9h0M224.4 482.8h0M224.9 482.5h0M225.5 482.2h0M226.0 482.6h0M226.6 483.4h0M227.1 481.3h0M227.7 482.5h0M228.2 476.9h0M228.8 477.4h0M229.3 479.9h0M229.9 474.6h0M230.5 474.8h0M231.0 479.2h0M231.6 471.8h0M232.1 473.0h0M232.7 470.1h0M233.2 475.4h0M233.8 471.6h0M234.3 471.1h0M234.9 470.8h0M235.5 470.4h0M236.0 468.2h0M236.6 472.3h0M237.1 471.3h0M237.7 471.0h0M238.2 469.0h0M238.8 468.5h0M239.3 466.3h0M239.9 465.9h0M240.5 465.8h0M241.0 466.5h0M241.6 465.6h0M242.1 462.6h0M242.7 462.4h0M243.2 463.1h0M243.8 463.4h0M244.3 459.6h0M244.9 463.0h0M245.5 460.3h0M246.0 458.9h0M246.6 461.0h0M247.1 458.5h0M247.7 461.5h0M248.2 457.3h0M248.8 458.2h0M249.3 461.0h0M249.9 456.3h0M250.4 458.5h0M251.0 454.0h0M251.6 456.9h0M252.1 455.3h0M252.7 453.9h0M253.2 454.4h0M253.8 452.7h0M254.3 453.5h0M254.9 450.7h0M255.4 451.3h0M256.0 450.3h0M256.6 455.0h0M257.1 447.3h0M257.7 448.7h0M258.2 451.3h0M258.8 447.4h0M259.3 446.1h0M259.9 444.4h0M260.4 447.6h0M261.0 442.3h0M261.6 444.7h0M262.1 439.5h0M262.7 443.4h0M263.2 441.3h0" stroke="#000" stroke-width="4.1" stroke-linecap="round" fill="none"/>
<polyline points="56.6,639.6 130.3,596.1 263.7,438.9" fill="none" stroke="#aaa" stroke-width="1.4"/>
<text x="177.85" y="619.50" textLength="28.55" lengthAdjust="spacingAndGlyphs">7.09</text><path d="M211.60 612.00L218.40 618.60M211.60 618.60L218.40 612.00" stroke="#333" stroke-width="1.05" fill="none"/><text x="224.50" y="619.50" textLength="16.06" lengthAdjust="spacingAndGlyphs">10</text><text x="240.40" y="612.90" textLength="7.09" lengthAdjust="spacingAndGlyphs" style="font-size:10.5px;">−</text><text x="247.65" y="612.90" textLength="6.07" lengthAdjust="spacingAndGlyphs" style="font-size:10.5px;">4</text><text x="259.07" y="619.50" textLength="53.54" lengthAdjust="spacingAndGlyphs">mm/cyc</text>
<text x="239.94" y="634.70" textLength="10.71" lengthAdjust="spacingAndGlyphs" style="font-style:italic;">R</text><text x="250.71" y="630.10" textLength="5.37" lengthAdjust="spacingAndGlyphs" style="font-size:10.3px;">2</text><path d="M261.40 628.50H271.30M261.40 632.50H271.30" stroke="#333" stroke-width="1.0" fill="none"/><text x="276.94" y="634.70" textLength="35.86" lengthAdjust="spacingAndGlyphs">0.995</text>
<text x="171.24" y="649.10" textLength="62.18" lengthAdjust="spacingAndGlyphs">Extension</text><path d="M239.00 642.50H248.50M239.00 647.50H248.50" stroke="#333" stroke-width="1.0" fill="none"/><text x="254.74" y="649.10" textLength="28.66" lengthAdjust="spacingAndGlyphs">3.89</text><text x="288.11" y="649.10" textLength="24.77" lengthAdjust="spacingAndGlyphs">mm</text>
<text x="241.74" y="664.20" textLength="15.67" lengthAdjust="spacingAndGlyphs">92</text>
<text x="262.14" y="664.20" textLength="50.58" lengthAdjust="spacingAndGlyphs">minutes</text>
<text x="178.25" y="703.30" textLength="28.29" lengthAdjust="spacingAndGlyphs">3.73</text><path d="M211.80 695.80L218.60 702.40M211.80 702.40L218.60 695.80" stroke="#333" stroke-width="1.05" fill="none"/><text x="224.70" y="703.30" textLength="16.06" lengthAdjust="spacingAndGlyphs">10</text><text x="240.60" y="696.70" textLength="7.09" lengthAdjust="spacingAndGlyphs" style="font-size:10.5px;">−</text><text x="247.85" y="696.70" textLength="6.07" lengthAdjust="spacingAndGlyphs" style="font-size:10.5px;">4</text><text x="259.27" y="703.30" textLength="53.54" lengthAdjust="spacingAndGlyphs">mm/cyc</text>
<text x="240.14" y="718.10" textLength="10.71" lengthAdjust="spacingAndGlyphs" style="font-style:italic;">R</text><text x="250.91" y="713.50" textLength="5.37" lengthAdjust="spacingAndGlyphs" style="font-size:10.3px;">2</text><path d="M261.60 711.50H271.50M261.60 716.50H271.50" stroke="#333" stroke-width="1.0" fill="none"/><text x="277.14" y="718.10" textLength="35.94" lengthAdjust="spacingAndGlyphs">0.979</text>
<text x="171.44" y="733.10" textLength="62.18" lengthAdjust="spacingAndGlyphs">Extension</text><path d="M239.20 726.50H248.70M239.20 731.50H248.70" stroke="#333" stroke-width="1.0" fill="none"/><text x="254.36" y="733.10" textLength="29.20" lengthAdjust="spacingAndGlyphs">1.13</text><text x="288.31" y="733.10" textLength="24.77" lengthAdjust="spacingAndGlyphs">mm</text>
<text x="242.05" y="747.80" textLength="15.39" lengthAdjust="spacingAndGlyphs">50</text>
<text x="262.34" y="747.80" textLength="50.58" lengthAdjust="spacingAndGlyphs">minutes</text>
<line x1="173.2" y1="599.0" x2="189.5" y2="528.8" stroke="#444" stroke-width="0.95"/>
<path d="M190.9 534.3L189.5 528.8L185.8 533.1" stroke="#444" stroke-width="0.95" fill="none"/>
<line x1="166.5" y1="685.5" x2="93.8" y2="622.0" stroke="#444" stroke-width="0.95"/>
<path d="M99.3 623.3L93.8 622.0L95.9 627.2" stroke="#444" stroke-width="0.95" fill="none"/>
<rect x="415.8" y="420.9" width="265.60" height="337.50" fill="none" stroke="#3a3a3a" stroke-width="1.25"/>
<path d="M459.04 758.4v-4.6M459.04 420.9v4.6M520.81 758.4v-4.6M520.81 420.9v4.6M582.58 758.4v-4.6M582.58 420.9v4.6M644.35 758.4v-4.6M644.35 420.9v4.6M421.98 758.4v-2.6M421.98 420.9v2.6M434.33 758.4v-2.6M434.33 420.9v2.6M446.69 758.4v-2.6M446.69 420.9v2.6M471.39 758.4v-2.6M471.39 420.9v2.6M483.75 758.4v-2.6M483.75 420.9v2.6M496.10 758.4v-2.6M496.10 420.9v2.6M508.46 758.4v-2.6M508.46 420.9v2.6M533.16 758.4v-2.6M533.16 420.9v2.6M545.52 758.4v-2.6M545.52 420.9v2.6M557.87 758.4v-2.6M557.87 420.9v2.6M570.23 758.4v-2.6M570.23 420.9v2.6M594.93 758.4v-2.6M594.93 420.9v2.6M607.29 758.4v-2.6M607.29 420.9v2.6M619.64 758.4v-2.6M619.64 420.9v2.6M632.00 758.4v-2.6M632.00 420.9v2.6M656.70 758.4v-2.6M656.70 420.9v2.6M669.06 758.4v-2.6M669.06 420.9v2.6M415.8 717.10h4.6M681.4 717.10h-4.6M415.8 673.04h4.6M681.4 673.04h-4.6M415.8 628.98h4.6M681.4 628.98h-4.6M415.8 584.92h4.6M681.4 584.92h-4.6M415.8 540.86h4.6M681.4 540.86h-4.6M415.8 496.80h4.6M681.4 496.80h-4.6M415.8 452.74h4.6M681.4 452.74h-4.6M415.8 750.14h2.6M681.4 750.14h-2.6M415.8 739.13h2.6M681.4 739.13h-2.6M415.8 728.12h2.6M681.4 728.12h-2.6M415.8 706.08h2.6M681.4 706.08h-2.6M415.8 695.07h2.6M681.4 695.07h-2.6M415.8 684.05h2.6M681.4 684.05h-2.6M415.8 662.02h2.6M681.4 662.02h-2.6M415.8 651.01h2.6M681.4 651.01h-2.6M415.8 639.99h2.6M681.4 639.99h-2.6M415.8 617.97h2.6M681.4 617.97h-2.6M415.8 606.95h2.6M681.4 606.95h-2.6M415.8 595.93h2.6M681.4 595.93h-2.6M415.8 573.90h2.6M681.4 573.90h-2.6M415.8 562.89h2.6M681.4 562.89h-2.6M415.8 551.88h2.6M681.4 551.88h-2.6M415.8 529.84h2.6M681.4 529.84h-2.6M415.8 518.83h2.6M681.4 518.83h-2.6M415.8 507.82h2.6M681.4 507.82h-2.6M415.8 485.78h2.6M681.4 485.78h-2.6M415.8 474.77h2.6M681.4 474.77h-2.6M415.8 463.75h2.6M681.4 463.75h-2.6M415.8 441.73h2.6M681.4 441.73h-2.6M415.8 430.71h2.6M681.4 430.71h-2.6" stroke="#3a3a3a" stroke-width="1.1" fill="none"/>
<text x="439.50" y="774.60" textLength="38.93" lengthAdjust="spacingAndGlyphs">26000</text>
<text x="501.27" y="774.60" textLength="38.93" lengthAdjust="spacingAndGlyphs">27000</text>
<text x="563.04" y="774.60" textLength="38.93" lengthAdjust="spacingAndGlyphs">28000</text>
<text x="624.81" y="774.60" textLength="38.93" lengthAdjust="spacingAndGlyphs">29000</text>
<text x="383.26" y="722.30" textLength="27.25" lengthAdjust="spacingAndGlyphs">17.2</text>
<text x="382.96" y="678.24" textLength="27.25" lengthAdjust="spacingAndGlyphs">17.4</text>
<text x="383.17" y="634.18" textLength="27.25" lengthAdjust="spacingAndGlyphs">17.6</text>
<text x="383.16" y="590.12" textLength="27.25" lengthAdjust="spacingAndGlyphs">17.8</text>
<text x="383.10" y="546.06" textLength="27.25" lengthAdjust="spacingAndGlyphs">18.0</text>
<text x="383.26" y="502.00" textLength="27.25" lengthAdjust="spacingAndGlyphs">18.2</text>
<text x="382.96" y="457.94" textLength="27.25" lengthAdjust="spacingAndGlyphs">18.4</text>
<text x="509.53" y="793.60" textLength="77.53" lengthAdjust="spacingAndGlyphs">Cycle Count</text>
<g transform="translate(372.50,653.40) rotate(-90)"><text x="-0.76" y="0.00" textLength="128.09" lengthAdjust="spacingAndGlyphs">Crack Length (mm)</text></g>
<text x="353.19" y="434.70" textLength="8.35" lengthAdjust="spacingAndGlyphs" style="font-size:17.5px;stroke:#1a1a1a;stroke-width:0.35px;fill:#1a1a1a;">c</text><text x="362.81" y="434.50" textLength="4.90" lengthAdjust="spacingAndGlyphs" style="font-size:19.3px;stroke:#1a1a1a;stroke-width:0.35px;fill:#1a1a1a;">)</text>
<line x1="459.60" y1="758.4" x2="459.60" y2="420.9" stroke="#555" stroke-width="1.5" stroke-dasharray="1.7 2.62"/>
<text x="428.84" y="448.50" textLength="55.47" lengthAdjust="spacingAndGlyphs">60% RH</text>
<path d="M440.2 683.5h0M440 690.1h0M439.3 697.1h0M442.1 696.5h0M433.2 713.3h0M435.8 719.6h0M437.5 718.6h0M438.9 719h0M432.7 726.9h0M429.2 729.1h0M431 743.3h0M479 602.3h0M482.5 608.4h0M484 609.3h0M489.8 606.4h0M460.3 609.9h0M460.6 611.4h0M476.1 616.1h0M473.1 621h0M474 620.4h0M488.3 615.8h0M486.8 618.5h0M491.5 612.8h0M499.2 611.7h0M466.5 626.3h0M480.5 624.5h0M494.5 625.5h0M495.9 626.9h0M498.8 633.6h0M471.2 631.3h0M468.1 638.8h0M470 643h0M446.6 643.4h0M457.6 646.1h0M454.1 651.2h0M462 650.8h0M445.1 657.5h0M444.9 661h0M458.8 657.2h0M464.1 657.5h0M465.5 658.4h0M456 661.3h0M443.9 671.5h0M451.3 672.4h0M452.9 671.8h0M449.8 674.7h0M443.4 676.5h0M448 677.1h0M508.6 613.8h0M524.1 608.9h0M503.9 624.7h0M536.3 537.6h0M535.5 539.6h0M556.5 537.6h0M534.7 548.7h0M534.9 550.8h0M548.9 553.4h0M553 553.9h0M558.2 552.2h0M537.8 559h0M541 557.8h0M551.8 559h0M555.3 559h0M547.2 562.9h0M559.4 565.6h0M526.1 564.7h0M533.5 571.5h0M545.6 573.8h0M539.6 577.9h0M542.8 576.7h0M544 583.1h0M510.4 581.4h0M513.3 580.8h0M515 583.7h0M518 582.6h0M519.5 580.8h0M521.1 584h0M525.5 582.8h0M531.6 581.2h0M530.5 584.9h0M526.7 589.6h0M528.1 591.3h0M516.2 592.1h0M511.3 594.2h0M493.1 590.1h0M485.3 594.8h0M497.8 595.4h0M504.5 596.8h0M502.4 600.3h0M507.1 599.1h0M522.6 599.5h0M612.8 487h0M623.1 486.8h0M576.4 501h0M576.7 503.9h0M596.8 501.3h0M613.7 498.7h0M618.4 499.3h0M620.7 500.8h0M620.1 502.8h0M624.8 496.9h0M626.6 495.8h0M583 507.7h0M606.1 507.1h0M612.6 506.3h0M576.1 513.3h0M598.3 512.7h0M595 515h0M609.3 512.9h0M617 513.3h0M587.4 516.8h0M600 518h0M604.4 518.3h0M610.8 521.5h0M615.5 522.6h0M607.3 525.2h0M627.7 524.4h0M579.6 522.6h0M581 525.8h0M585.9 527.3h0M592.1 526.5h0M593.9 527.6h0M578.1 530.5h0M603 531.2h0M575 536.1h0M564.1 537.5h0M569.3 539h0M571.7 538.4h0M573.8 540.7h0M601.5 540.5h0M584.3 543.1h0M589 544h0M590.6 544.8h0M567.2 546.6h0M562.3 547.5h0M570.5 558h0M556.7 526.7h0M630.1 449.8h0M629.5 461.8h0M632.4 460.3h0M629.5 472h0M631 469.6h0M623.4 474h0M634.2 478.2h0M635.7 477.5h0M665.1 436.3h0M664.6 441h0M668.2 442.3h0M666.4 453.2h0M641.8 448.6h0M643.2 464.9h0M646.2 466.4h0M644.7 470.4h0M648 475.4h0M637 481.9h0M638.8 486.6h0M640.4 488.3h0M649.7 481.8h0M651.1 484.4h0M655.4 477.8h0M658.5 475.2h0M660.3 476.1h0M663.5 473.2h0M657.2 482.8h0M661.8 486.1h0M652.6 493h0M654.1 497.4h0M565.8 578.4h0M561.3 585.6h0M477.2 572.8h0M477.6 576h0M476.6 591.5h0" stroke="#000" stroke-width="3.7" stroke-linecap="round" fill="none"/>
<polyline points="427.9,732.7 460.6,633.6 670.4,455.6" fill="none" stroke="#777" stroke-width="1.6"/>
<text x="540.77" y="619.20" textLength="28.40" lengthAdjust="spacingAndGlyphs">2.40</text><path d="M574.50 611.70L581.30 618.30M574.50 618.30L581.30 611.70" stroke="#333" stroke-width="1.05" fill="none"/><text x="587.40" y="619.20" textLength="16.06" lengthAdjust="spacingAndGlyphs">10</text><text x="603.30" y="612.60" textLength="7.09" lengthAdjust="spacingAndGlyphs" style="font-size:10.5px;">−</text><text x="610.55" y="612.60" textLength="6.07" lengthAdjust="spacingAndGlyphs" style="font-size:10.5px;">4</text><text x="621.97" y="619.20" textLength="53.54" lengthAdjust="spacingAndGlyphs">mm/cyc</text>
<text x="602.84" y="634.40" textLength="10.71" lengthAdjust="spacingAndGlyphs" style="font-style:italic;">R</text><text x="613.61" y="629.80" textLength="5.37" lengthAdjust="spacingAndGlyphs" style="font-size:10.3px;">2</text><path d="M624.30 628.50H634.20M624.30 632.50H634.20" stroke="#333" stroke-width="1.0" fill="none"/><text x="639.84" y="634.40" textLength="35.98" lengthAdjust="spacingAndGlyphs">0.907</text>
<text x="534.14" y="649.00" textLength="62.18" lengthAdjust="spacingAndGlyphs">Extension</text><path d="M601.90 642.50H611.40M601.90 646.50H611.40" stroke="#333" stroke-width="1.0" fill="none"/><text x="617.63" y="649.00" textLength="28.61" lengthAdjust="spacingAndGlyphs">0.88</text><text x="651.01" y="649.00" textLength="24.77" lengthAdjust="spacingAndGlyphs">mm</text>
<text x="604.74" y="663.90" textLength="15.47" lengthAdjust="spacingAndGlyphs">56</text>
<text x="625.04" y="663.90" textLength="50.58" lengthAdjust="spacingAndGlyphs">minutes</text>
<text x="540.87" y="703.40" textLength="28.34" lengthAdjust="spacingAndGlyphs">8.55</text><path d="M574.50 695.90L581.30 702.50M574.50 702.50L581.30 695.90" stroke="#333" stroke-width="1.05" fill="none"/><text x="587.40" y="703.40" textLength="16.06" lengthAdjust="spacingAndGlyphs">10</text><text x="603.30" y="696.80" textLength="7.09" lengthAdjust="spacingAndGlyphs" style="font-size:10.5px;">−</text><text x="610.55" y="696.80" textLength="6.07" lengthAdjust="spacingAndGlyphs" style="font-size:10.5px;">4</text><text x="621.97" y="703.40" textLength="53.54" lengthAdjust="spacingAndGlyphs">mm/cyc</text>
<text x="602.84" y="718.20" textLength="10.71" lengthAdjust="spacingAndGlyphs" style="font-style:italic;">R</text><text x="613.61" y="713.60" textLength="5.37" lengthAdjust="spacingAndGlyphs" style="font-size:10.3px;">2</text><path d="M624.30 711.50H634.20M624.30 716.50H634.20" stroke="#333" stroke-width="1.0" fill="none"/><text x="639.84" y="718.20" textLength="35.98" lengthAdjust="spacingAndGlyphs">0.767</text>
<text x="534.14" y="733.10" textLength="62.18" lengthAdjust="spacingAndGlyphs">Extension</text><path d="M601.90 726.50H611.40M601.90 731.50H611.40" stroke="#333" stroke-width="1.0" fill="none"/><text x="617.63" y="733.10" textLength="28.55" lengthAdjust="spacingAndGlyphs">0.40</text><text x="651.01" y="733.10" textLength="24.77" lengthAdjust="spacingAndGlyphs">mm</text>
<text x="611.89" y="747.90" textLength="8.43" lengthAdjust="spacingAndGlyphs">9</text>
<text x="625.04" y="747.90" textLength="50.58" lengthAdjust="spacingAndGlyphs">minutes</text>
<line x1="536.1" y1="599.3" x2="552.8" y2="559.8" stroke="#444" stroke-width="0.95"/>
<path d="M553.2 565.4L552.8 559.8L548.5 563.4" stroke="#444" stroke-width="0.95" fill="none"/>
<line x1="527.0" y1="689.3" x2="446.3" y2="689.3" stroke="#444" stroke-width="0.95"/>
<path d="M451.9 686.7L446.3 689.3L451.9 691.9" stroke="#444" stroke-width="0.95" fill="none"/>
</svg></body></html>
